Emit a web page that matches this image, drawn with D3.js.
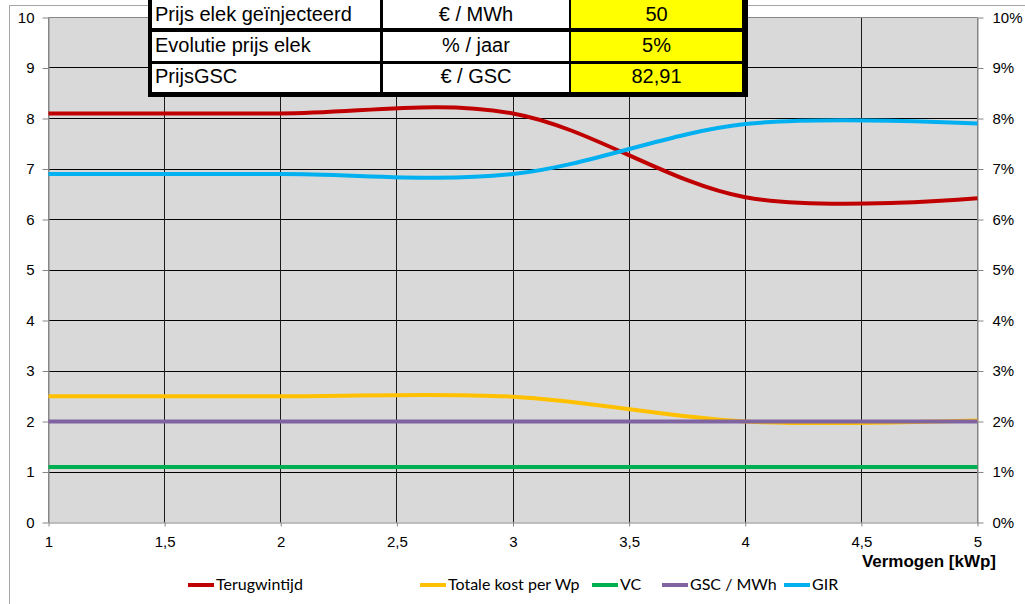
<!DOCTYPE html>
<html>
<head>
<meta charset="utf-8">
<script src="https://cdn.jsdelivr.net/npm/d3@7"></script>
<style>
  html, body { margin: 0; padding: 0; background: #ffffff; }
  svg { display: block; }
  text { font-family: "Liberation Sans", Arial, sans-serif; fill: #000; }
</style>
</head>
<body>
<svg id="chart" width="1025" height="604"></svg>
<script>
// ---- data ----
const vermogen = [1, 2, 3, 4, 5];                       // kWp
const terugwintijd = [8.1, 8.1, 8.1, 6.44, 6.42];       // jaar
const totaleKostPerWp = [2.5, 2.5, 2.49, 2.0, 2.02];    // € / Wp
const vc = [1.1, 1.1, 1.1, 1.1, 1.1];
const gscPerMWh = [2, 2, 2, 2, 2];
const gir = [0.069, 0.069, 0.069, 0.0789, 0.079];       // right axis (%)

const xTickValues = [1, 1.5, 2, 2.5, 3, 3.5, 4, 4.5, 5];
const xTickLabels = ["1", "1,5", "2", "2,5", "3", "3,5", "4", "4,5", "5"];
const leftTickValues = [0, 1, 2, 3, 4, 5, 6, 7, 8, 9, 10];
const rightTickValues = [0, 0.01, 0.02, 0.03, 0.04, 0.05, 0.06, 0.07, 0.08, 0.09, 0.10];
const rightTickLabels = ["0%", "1%", "2%", "3%", "4%", "5%", "6%", "7%", "8%", "9%", "10%"];

const tableLabels = ["Prijs elek geïnjecteerd", "Evolutie prijs elek", "PrijsGSC"];
const tableUnits = ["€ / MWh", "% / jaar", "€ / GSC"];
const tableValues = ["50", "5%", "82,91"];

const seriesNames = ["Terugwintijd", "Totale kost per Wp", "VC", "GSC / MWh", "GIR"];
const seriesColors = ["#c00000", "#ffc000", "#00b050", "#8064a2", "#00b0f0"];

// ---- layout ----
const svg = d3.select("#chart");
const plot = { left: 48.5, right: 977.5, top: 17.5, bottom: 522.5 };

const x = d3.scaleLinear().domain([1, 5]).range([plot.left, plot.right]);
const yL = d3.scaleLinear().domain([0, 10]).range([plot.bottom, plot.top]);
const yR = d3.scaleLinear().domain([0, 0.10]).range([plot.bottom, plot.top]);
const crisp = v => Math.round(v - 0.5) + 0.5;

// outer chart frame
svg.append("rect")
  .attr("x", 9.5).attr("y", 5.5).attr("width", 1030).attr("height", 620)
  .attr("fill", "#fff").attr("stroke", "#a6a6a6").attr("stroke-width", 1);

// plot area
svg.append("rect")
  .attr("x", plot.left).attr("y", plot.top)
  .attr("width", plot.right - plot.left).attr("height", plot.bottom - plot.top)
  .attr("fill", "#d9d9d9");

// gridlines
const grid = svg.append("g");
grid.selectAll("line.h").data(leftTickValues.filter(v => v > 0 && v < 10)).join("line")
  .attr("x1", plot.left).attr("x2", plot.right)
  .attr("y1", d => crisp(yL(d))).attr("y2", d => crisp(yL(d)))
  .attr("stroke", "#000").attr("stroke-width", 1);
grid.selectAll("line.v").data(xTickValues.filter(v => v > 1 && v < 5)).join("line")
  .attr("y1", plot.top).attr("y2", plot.bottom)
  .attr("x1", d => crisp(x(d))).attr("x2", d => crisp(x(d)))
  .attr("stroke", "#1a1a1a").attr("stroke-width", 1);

// plot border
svg.append("path")
  .attr("d", `M${plot.left},${plot.bottom}V${plot.top}H${plot.right}V${plot.bottom}`)
  .attr("fill", "none").attr("stroke", "#868686").attr("stroke-width", 1);

// axes
const styleAxis = g => {
  g.select(".domain").attr("stroke", "#868686");
  g.selectAll(".tick line").attr("stroke", "#868686");
  g.selectAll("text").attr("font-size", 15).attr("font-family", "Liberation Sans, Arial, sans-serif").attr("fill", "#000");
};

svg.append("g").attr("transform", `translate(${plot.left},0)`)
  .call(d3.axisLeft(yL).tickValues(leftTickValues).tickFormat(d3.format("d"))
    .tickSize(6).tickSizeOuter(0).tickPadding(8))
  .call(styleAxis);

svg.append("g").attr("transform", `translate(${plot.right},0)`)
  .call(d3.axisRight(yR).tickValues(rightTickValues).tickFormat((d, i) => rightTickLabels[i])
    .tickSize(6).tickSizeOuter(0).tickPadding(9))
  .call(styleAxis);

svg.append("g").attr("transform", `translate(0,${plot.bottom})`)
  .call(d3.axisBottom(x).tickValues(xTickValues).tickFormat((d, i) => xTickLabels[i])
    .tickSize(4).tickSizeOuter(0).tickPadding(10))
  .call(styleAxis);

svg.append("text")
  .attr("x", 996).attr("y", 567)
  .attr("text-anchor", "end")
  .attr("font-size", 17).attr("font-weight", "bold")
  .text("Vermogen [kWp]");

// series lines
const seriesValues = [terugwintijd, totaleKostPerWp, vc, gscPerMWh, gir];
const seriesScales = [yL, yL, yL, yL, yR];
const lines = svg.append("g");
seriesValues.forEach((vals, k) => {
  const scale = seriesScales[k];
  const line = d3.line()
    .x((d, i) => x(vermogen[i]))
    .y(d => scale(d))
    .curve(d3.curveCardinal.tension(0));
  lines.append("path")
    .datum(vals)
    .attr("d", line)
    .attr("fill", "none")
    .attr("stroke", seriesColors[k])
    .attr("stroke-width", 4)
    .attr("stroke-linejoin", "round");
});

// parameter table
const table = svg.append("g");
const colX = [[152, 380], [383, 569], [571, 742]];
const rowY = [[-10, 28], [32, 61], [64, 92]];
const rowBaseline = [20.5, 51.5, 82.5];
table.append("rect")
  .attr("x", 148).attr("y", -10).attr("width", 600).attr("height", 107)
  .attr("fill", "#000");
const cellTexts = [tableLabels, tableUnits, tableValues];
rowY.forEach((ry, r) => {
  colX.forEach((cx, c) => {
    table.append("rect")
      .attr("x", cx[0]).attr("y", ry[0])
      .attr("width", cx[1] - cx[0]).attr("height", ry[1] - ry[0])
      .attr("fill", c === 2 ? "#ffff00" : "#ffffff");
    table.append("text")
      .attr("x", c === 0 ? cx[0] + 3 : (cx[0] + cx[1]) / 2)
      .attr("y", rowBaseline[r])
      .attr("text-anchor", c === 0 ? "start" : "middle")
      .attr("font-size", 20)
      .text(cellTexts[c][r]);
  });
});

// legend
const legendX = [188, 420, 592, 662, 784];
const legend = svg.append("g");
seriesNames.forEach((name, k) => {
  legend.append("line")
    .attr("x1", legendX[k]).attr("x2", legendX[k] + 26)
    .attr("y1", 585).attr("y2", 585)
    .attr("stroke", seriesColors[k]).attr("stroke-width", 4);
  legend.append("text")
    .attr("x", legendX[k] + 28).attr("y", 590)
    .attr("font-size", 16)
    .style("font-family", "Lato, sans-serif")
    .text(name);
});
</script>
</body>
</html>
